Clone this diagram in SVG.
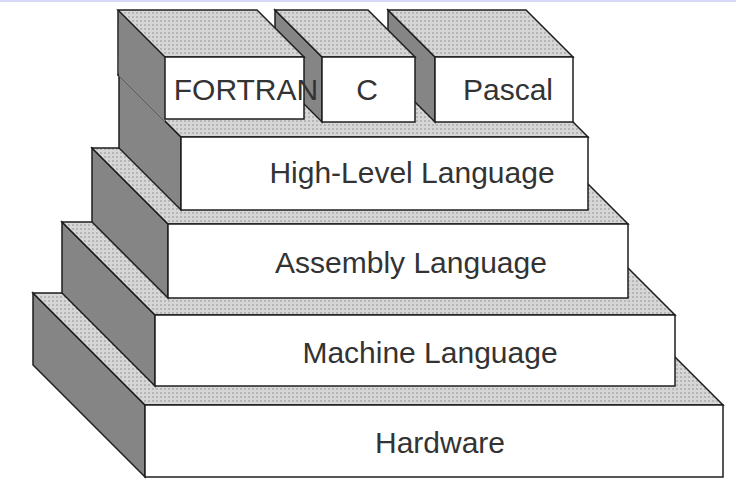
<svg xmlns="http://www.w3.org/2000/svg" width="736" height="479" viewBox="0 0 736 479">
  <defs>
    <!-- halftone fill used on the top faces -->
    <pattern id="dots" width="4" height="4" patternUnits="userSpaceOnUse">
      <rect width="4" height="4" fill="#d6d6d6"/>
      <rect x="0" y="0" width="2" height="2" fill="#b6b6b6"/>
    </pattern>
  </defs>
  <style>
    .side  { fill: #858585; stroke: #1e1e1e; stroke-width: 1.5; stroke-linejoin: miter; }
    .fill  { fill: #858585; stroke: none; }
    .edge  { fill: none; stroke: #1e1e1e; stroke-width: 1.5; }
    .top   { fill: url(#dots); stroke: #1e1e1e; stroke-width: 1.5; stroke-linejoin: miter; }
    .front { fill: #ffffff; stroke: #1e1e1e; stroke-width: 1.5; }
    .label { font-family: "Liberation Sans", Arial, sans-serif; font-size: 30px; fill: #333333; text-anchor: middle; }
  </style>

  <rect x="0" y="0" width="736" height="479" fill="#ffffff"/>
  <rect x="0" y="0" width="736" height="2" fill="#d8d8f8"/>

  <!-- bottom layer -->
  <g id="hardware">
    <polygon class="side" points="33,293 145,405 145,477 33,365"/>
    <polygon class="top" points="33,293 611,293 723,405 145,405"/>
    <rect class="front" x="145" y="405" width="578" height="72"/>
    <text class="label" x="440" y="453">Hardware</text>
  </g>

  <g id="machine-language">
    <polygon class="side" points="62,222 155,315 155,386 62,293"/>
    <polygon class="top" points="62,222 582,222 675,315 155,315"/>
    <rect class="front" x="155" y="315" width="520" height="71"/>
    <text class="label" x="430" y="363">Machine Language</text>
  </g>

  <g id="assembly-language">
    <polygon class="side" points="92,148 168,224 168,298 92,222"/>
    <polygon class="top" points="92,148 552,148 628,224 168,224"/>
    <rect class="front" x="168" y="224" width="460" height="74"/>
    <text class="label" x="411" y="273">Assembly Language</text>
  </g>

  <g id="high-level-language">
    <polygon class="side" points="119,75 181,137 181,210 119,148"/>
    <polygon class="top" points="119,75 526,75 588,137 181,137"/>
    <rect class="front" x="181" y="137" width="407" height="73"/>
    <text class="label" x="412" y="183">High-Level Language</text>
  </g>

  <!-- language boxes, back to front -->
  <g id="pascal">
    <polygon class="side" points="388,10 435,57 435,122 388,75"/>
    <polygon class="top" points="388,10 526,10 573,57 435,57"/>
    <rect class="front" x="435" y="57" width="138" height="65"/>
    <text class="label" x="508" y="100">Pascal</text>
  </g>

  <g id="c">
    <polygon class="side" points="275,10 322,57 322,122 275,75"/>
    <polygon class="top" points="275,10 368,10 415,57 322,57"/>
    <rect class="front" x="322" y="57" width="93" height="65"/>
    <text class="label" x="367" y="100">C</text>
  </g>

  <g id="fortran">
    <!-- side face blends into the side of the layer below -->
    <polygon class="fill" points="118,10 165,57 165,122 119,76"/>
    <line class="edge" x1="118" y1="10" x2="118" y2="76"/>
    <polygon class="top" points="118,10 257,10 304,57 165,57"/>
    <rect class="front" x="165" y="57" width="139" height="62"/>
    <text class="label" x="246" y="100">FORTRAN</text>
  </g>
</svg>
